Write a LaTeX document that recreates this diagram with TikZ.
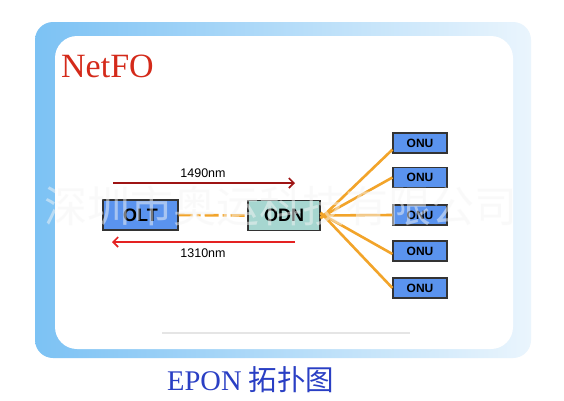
\documentclass[tikz,border=0pt]{standalone}
\usepackage{fontspec}
\setmainfont{Liberation Serif}
\setsansfont{Liberation Sans}
\newfontfamily\cjk{Noto Sans CJK SC}
\usetikzlibrary{arrows.meta}
\definecolor{frameL}{HTML}{7CC2F4}
\definecolor{frameR}{HTML}{EAF5FD}
\definecolor{netred}{HTML}{D42A1A}
\definecolor{oltblue}{HTML}{5A93EE}
\definecolor{odnteal}{HTML}{A6D6D0}
\definecolor{fiber}{HTML}{F2A42A}
\definecolor{darkred}{HTML}{9E1414}
\definecolor{brightred}{HTML}{E42222}
\definecolor{capblue}{HTML}{2A3FC4}
\tikzset{
  devbox/.style={draw=black!80, line width=1.2pt, minimum height=30pt, inner sep=0pt,
    font=\sffamily\bfseries\fontsize{18}{18}\selectfont},
  onubox/.style={draw=black!80, line width=1.2pt, fill=oltblue, minimum width=54pt, minimum height=20pt,
    inner sep=0pt, font=\sffamily\bfseries\fontsize{12}{12}\selectfont},
  fiberline/.style={draw=fiber, line width=2.6pt},
  wave/.style={line width=1.6pt, -{Straight Barb[length=5pt,width=10pt,line width=1.6pt]}},
  wavelabel/.style={font=\sffamily\fontsize{12.5}{13}\selectfont, inner sep=0pt}
}
\begin{document}
\begin{tikzpicture}[x=1pt,y=-1pt]
\useasboundingbox (0,0) rectangle (564,400);
\fill[white] (0,0) rectangle (564,400);
% frame
\shade[left color=frameL, right color=frameR, rounded corners=18pt] (35,22) rectangle (531,358);
\fill[white, rounded corners=22pt] (55,36) rectangle (513,349);
\draw[black!10, line width=1.2pt] (162,333) -- (410,333);
% title
\node[anchor=base west, text=netred, font=\fontsize{34}{34}\selectfont, inner sep=0pt] (title) at (61,77) {NetFO};
% devices
\node[devbox, fill=oltblue, minimum width=75pt] (olt) at (140.5,215) {OLT};
\node[devbox, fill=odnteal, minimum width=72pt] (odn) at (284,215.5) {ODN};
\node[onubox] (onu1) at (420,143) {ONU};
\node[onubox] (onu2) at (420,177.5) {ONU};
\node[onubox] (onu3) at (420,215) {ONU};
\node[onubox] (onu4) at (420,251) {ONU};
\node[onubox] (onu5) at (420,288) {ONU};
% fibers
\draw[fiberline, dash pattern=on 14pt off 4pt on 4pt off 4pt] (olt.east) -- (odn.west);
\draw[fiberline] ([yshift=-3pt]odn.east) -- ([yshift=4pt]onu1.south west);
\draw[fiberline] ([yshift=-2pt]odn.east) -- ([yshift=0pt]onu2.west);
\draw[fiberline] (odn.east) -- (onu3.west);
\draw[fiberline] ([yshift=2pt]odn.east) -- ([yshift=-3pt]onu4.west);
\draw[fiberline] ([yshift=3pt]odn.east) -- ([yshift=0pt]onu5.west);
% wavelengths
\coordinate (d1) at (113,183);
\coordinate (d2) at (295,183);
\coordinate (u1) at (295,242);
\coordinate (u2) at (112,242);
\draw[wave, darkred] (d1) -- (d2);
\draw[wave, brightred] (u1) -- (u2);
\node[wavelabel] (l1490) at (203,173) {1490nm};
\node[wavelabel] (l1310) at (203,253) {1310nm};
% watermark
\node[text=gray!8, opacity=0.5, font=\cjk\fontsize{43}{43}\selectfont, inner sep=0pt] (wm) at (281,206) {深圳市奥运科技有限公司};
% caption
\node[anchor=base west, text=capblue, inner sep=0pt, font=\fontsize{28.5}{28}\selectfont] (cap) at (167,390) {EPON {\cjk 拓扑图}};
\end{tikzpicture}
\end{document}
